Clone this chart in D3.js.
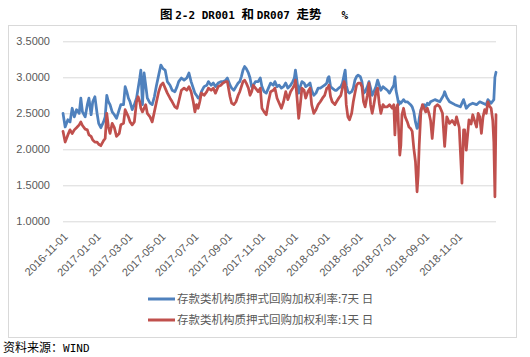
<!DOCTYPE html>
<html><head><meta charset="utf-8">
<script src="https://cdn.jsdelivr.net/npm/d3@7"></script>
<style>body{margin:0;background:#fff;} svg{display:block;} text{white-space:pre;}</style>
</head><body><svg id="c" width="530" height="357"></svg>
<script>
const titleParts = [["图 ", "cjk"], ["2-2 DR001 ", "lat"], ["和 ", "cjk"], ["DR007 ", "lat"], ["走势", "cjk"], ["   %", "lat"]];
const sourceParts = [["资料来源：", "cjk"], ["WIND", "lat"]];
const startDate = "2016-10-19";
const endOffset = 801;
const yTicks = [1.0, 1.5, 2.0, 2.5, 3.0, 3.5];
const xTickLabels = ["2016-11-01","2017-01-01","2017-03-01","2017-05-01","2017-07-01","2017-09-01","2017-11-01","2018-01-01","2018-03-01","2018-05-01","2018-07-01","2018-09-01","2018-11-01"];
const seriesNames = ["存款类机构质押式回购加权利率:7天 日", "存款类机构质押式回购加权利率:1天 日"];
const seriesColors = ["#4F81BD", "#C0504D"];

// DR007: days since startDate, value (%)
const dr007Days = [0,4,9,13,17,21,25,30,33,36,41,45,48,52,55,59,63,66,70,75,78,81,84,87,91,95,99,104,107,112,115,118,121,124,128,132,136,139,142,144,147,150,153,156,161,165,169,173,177,181,185,
189,193,198,202,207,211,214,219,224,229,233,237,241,244,247,250,253,256,261,266,269,274,278,282,287,292,296,301,304,309,312,316,320,324,327,330,333,336,339,343,346,349,352,356,361,365,368,372,376,380,384,389,
392,396,400,404,408,412,416,421,425,428,430,433,436,439,442,446,449,453,457,460,464,468,472,476,480,484,488,490,492,495,498,503,506,510,514,517,520,522,524,527,530,534,537,540,543,546,550,553,556,559,563,566,569,572,575,579,582,585,588,592,
595,600,604,609,612,614,616,619,621,623,625,627,630,633,637,640,643,646,649,652,655,657,659,662,665,668,671,674,
677,680,688,697,704,706,710,715,725,735,741,746,752,758,765,771,777,783,786,792,797,799,801];
const dr007 = [2.50,2.31,2.41,2.38,2.57,2.45,2.55,2.50,2.71,2.52,2.45,2.62,2.71,2.48,2.66,2.73,2.50,2.36,2.30,2.38,2.45,2.75,2.66,2.62,2.52,2.48,2.43,2.55,2.62,2.62,2.87,2.80,2.71,2.66,2.55,2.62,2.71,2.85,2.99,3.10,2.62,3.06,2.89,2.71,2.64,2.62,2.73,2.89,3.03,3.17,3.12,
3.10,2.94,2.89,2.82,2.80,2.87,2.94,2.99,2.96,2.99,3.06,2.94,2.85,2.78,2.75,2.71,2.73,2.80,2.87,2.89,2.94,2.89,2.92,2.87,2.92,2.94,2.94,2.96,2.99,2.89,2.85,2.82,2.87,2.92,2.94,3.01,3.10,3.15,3.12,3.06,2.99,2.87,2.89,2.94,2.94,2.99,2.87,2.80,2.78,2.85,2.92,2.89,
2.94,2.87,2.89,2.85,2.87,2.92,2.85,2.89,2.94,2.99,3.10,2.94,2.78,2.87,2.94,2.92,2.87,2.89,2.92,2.82,2.75,2.78,2.85,2.85,2.87,2.89,2.92,2.99,3.01,2.87,2.85,2.82,2.82,2.85,2.87,2.92,3.03,3.10,2.89,2.80,2.78,2.80,2.85,2.96,3.01,3.03,3.01,2.94,2.78,2.80,2.87,2.94,2.85,2.75,2.80,2.87,2.96,2.89,2.82,2.87,
2.85,2.82,2.78,2.85,2.89,3.01,2.82,2.71,2.62,2.66,2.64,2.66,2.69,2.66,2.66,2.64,2.62,2.59,2.52,2.38,2.29,2.31,2.43,2.55,2.59,2.62,2.59,2.64,
2.62,2.66,2.69,2.66,2.75,2.80,2.72,2.66,2.62,2.59,2.69,2.57,2.62,2.64,2.62,2.66,2.64,2.62,2.69,2.64,2.69,3.00,3.07];

// DR001: days since startDate, value (%)
const dr001Days = [0,4,9,13,17,21,25,30,33,36,41,45,48,52,55,59,63,66,70,75,78,81,84,87,91,95,99,104,107,112,115,118,121,124,128,132,136,139,142,144,147,150,153,156,161,165,169,173,177,181,185,
189,193,198,202,207,211,214,219,224,229,233,237,241,244,247,250,253,256,261,266,269,274,278,282,287,292,296,301,304,309,312,316,320,324,327,330,333,336,339,343,346,349,352,356,361,365,368,372,376,380,384,389,
392,396,400,404,408,412,416,421,425,428,430,433,436,439,442,446,449,453,457,460,464,468,472,476,480,484,488,490,492,495,498,503,506,510,514,517,520,522,524,527,530,534,537,540,543,546,550,553,556,559,563,566,569,572,575,579,582,585,588,592,
595,600,604,609,612,614,616,619,621,623,625,627,630,633,637,640,643,646,649,652,655,657,659,662,665,668,671,674,
677,680,683,688,693,697,702,706,710,715,720,725,728,733,738,741,743,746,751,755,758,762,765,768,771,774,777,780,783,786,789,792,795,797,799,801];
const dr001 = [2.25,2.10,2.20,2.27,2.22,2.27,2.30,2.34,2.38,2.33,2.28,2.27,2.20,2.18,2.13,2.10,2.10,2.07,2.05,2.12,2.15,2.50,2.31,2.22,2.36,2.30,2.18,2.22,2.34,2.36,2.55,2.50,2.45,2.38,2.34,2.38,2.66,2.73,2.66,2.57,2.52,2.57,2.62,2.50,2.45,2.38,2.52,2.66,2.80,2.89,2.92,
2.85,2.78,2.71,2.66,2.59,2.57,2.66,2.82,2.85,2.82,2.87,2.80,2.66,2.52,2.62,2.57,2.66,2.78,2.75,2.80,2.85,2.82,2.85,2.78,2.87,2.89,2.92,2.94,2.94,2.73,2.64,2.62,2.66,2.75,2.80,2.87,2.94,2.96,2.92,2.85,2.75,2.80,2.89,2.85,2.80,2.85,2.57,2.52,2.48,2.66,2.80,2.82,
2.85,2.71,2.64,2.57,2.66,2.80,2.69,2.80,2.85,2.89,2.96,2.71,2.43,2.62,2.85,2.82,2.71,2.80,2.85,2.62,2.50,2.55,2.62,2.66,2.71,2.75,2.85,2.85,2.89,2.73,2.66,2.62,2.66,2.71,2.75,2.85,2.94,2.89,2.62,2.45,2.41,2.50,2.66,2.78,2.89,2.92,2.92,2.87,2.66,2.59,2.75,2.92,2.62,2.50,2.62,2.80,2.85,2.64,2.50,2.62,
2.59,2.59,2.62,2.57,2.62,2.20,2.55,2.62,2.25,1.92,2.06,2.48,2.57,2.45,2.38,2.31,2.29,2.25,2.01,1.83,1.41,1.64,2.06,2.52,2.62,2.57,2.52,2.57,
2.50,2.40,2.15,2.59,2.62,2.59,2.50,2.04,2.45,2.36,2.40,2.34,2.45,2.30,1.53,2.27,2.27,1.99,2.41,2.35,2.48,2.38,2.31,2.50,2.45,2.22,2.45,2.55,2.50,2.66,2.60,2.57,2.40,2.10,1.34,2.48];

const svg = d3.select("#c");
const parse = d3.utcParse("%Y-%m-%d");
const t0 = parse(startDate);
const toDate = d => d3.utcDay.offset(t0, d);

const x = d3.scaleUtc().domain([t0, toDate(endOffset)]).range([63, 496]);
const y = d3.scaleLinear().domain([1, 3.5]).range([221.3, 41.3]);

const CJK = "'Noto Sans CJK SC', sans-serif";
const MONO = "'DejaVu Sans Mono', 'Liberation Mono', monospace";

// chart border
svg.append("rect").attr("x", 8.5).attr("y", 25.5).attr("width", 508).attr("height", 312)
  .attr("fill", "#fff").attr("stroke", "#D9D9D9").attr("stroke-width", 1);

// title
const title = svg.append("text").attr("x", 254).attr("y", 19).attr("text-anchor", "middle")
  .attr("font-weight", "bold").attr("fill", "#000");
titleParts.forEach(([t, k]) => {
  title.append("tspan").attr("font-family", k === "cjk" ? CJK : MONO)
    .attr("font-size", k === "cjk" ? 12.5 : 11).text(t);
});

// y axis with gridlines
const yAxis = svg.append("g").attr("transform", "translate(63,0)")
  .call(d3.axisLeft(y).tickValues(yTicks).tickSize(-433).tickPadding(13).tickFormat(d3.format(".4f")));
yAxis.select(".domain").remove();
yAxis.selectAll(".tick line").attr("stroke", "#D9D9D9").attr("stroke-width", 1);
yAxis.selectAll(".tick text").attr("fill", "#595959").attr("font-size", 11)
  .attr("font-family", "'Liberation Sans', Arial, sans-serif");

// x axis
const xAxis = svg.append("g").attr("transform", "translate(0,221.3)")
  .call(d3.axisBottom(x).tickValues(xTickLabels.map(parse)).tickSize(0).tickFormat(d3.utcFormat("%Y-%m-%d")));
xAxis.select(".domain").remove();
xAxis.selectAll(".tick text")
  .attr("x", 0).attr("y", 0).attr("dy", null)
  .attr("transform", "translate(-2,16) rotate(-45)")
  .attr("text-anchor", "end")
  .attr("fill", "#595959").attr("font-size", 11)
  .attr("font-family", "'Liberation Sans', Arial, sans-serif");

// lines
const line = d3.line().x(d => x(toDate(d[0]))).y(d => y(d[1]));
const s7 = dr007Days.map((d, i) => [d, dr007[i]]);
const s1 = dr001Days.map((d, i) => [d, dr001[i]]);
[s7, s1].forEach((s, i) => {
  svg.append("path").datum(s).attr("d", line).attr("fill", "none")
    .attr("stroke", seriesColors[i]).attr("stroke-width", 2.75)
    .attr("stroke-linejoin", "round").attr("stroke-linecap", "round");
});

// legend
const legY = [299, 320];
seriesNames.forEach((n, i) => {
  svg.append("line").attr("x1", 148).attr("x2", 175).attr("y1", legY[i]).attr("y2", legY[i])
    .attr("stroke", seriesColors[i]).attr("stroke-width", 3);
  svg.append("text").attr("x", 177).attr("y", legY[i]).attr("dy", "0.36em")
    .attr("font-family", CJK).attr("font-size", 11.5)
    .attr("fill", "#595959").text(n);
});

// source
const src = svg.append("text").attr("x", 3).attr("y", 352).attr("fill", "#000");
sourceParts.forEach(([t, k]) => {
  src.append("tspan").attr("font-family", k === "cjk" ? CJK : MONO)
    .attr("font-size", k === "cjk" ? 12 : 11).text(t);
});
</script>
</body></html>
